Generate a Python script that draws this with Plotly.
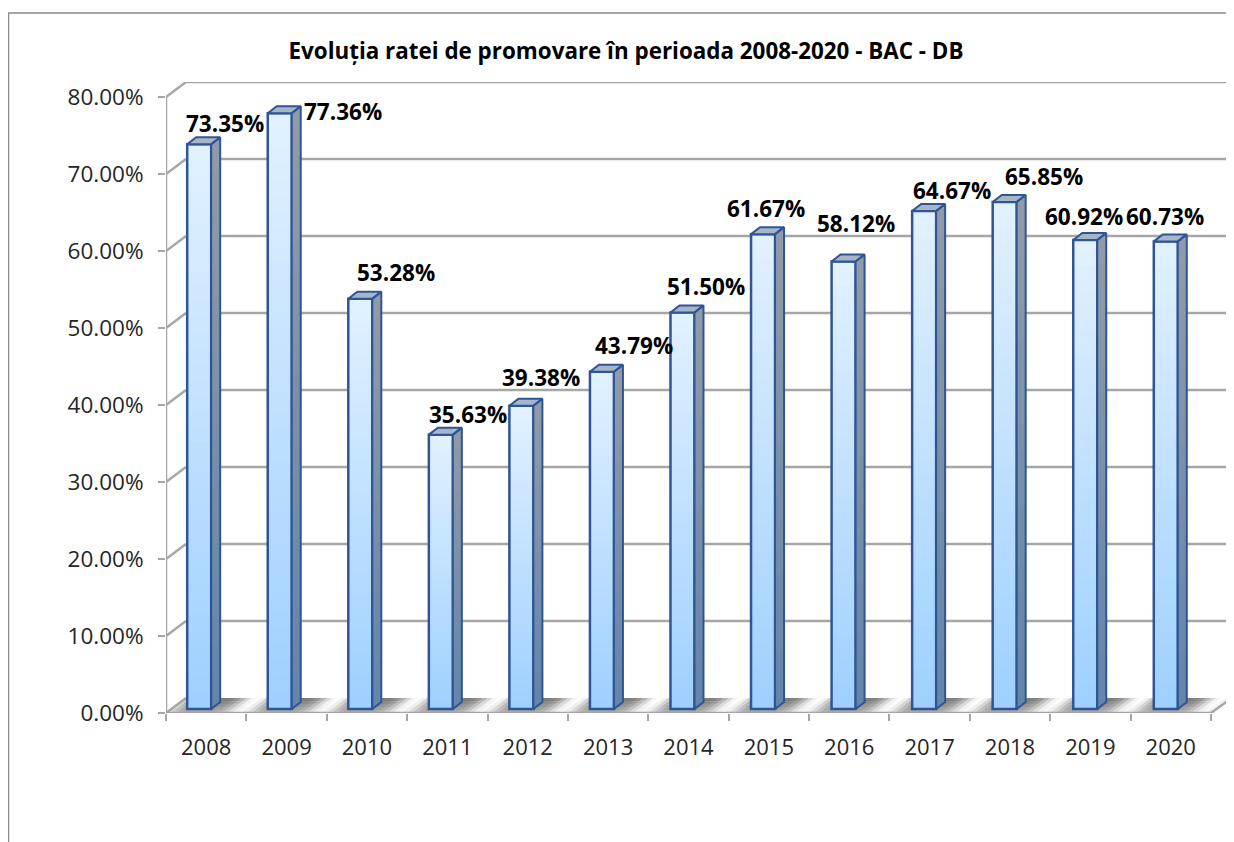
import math
import plotly.graph_objects as go

years = ["2008", "2009", "2010", "2011", "2012", "2013", "2014",
         "2015", "2016", "2017", "2018", "2019", "2020"]
rates = [73.35, 77.36, 53.28, 35.63, 39.38, 43.79, 51.50,
         61.67, 58.12, 64.67, 65.85, 60.92, 60.73]
y_ticks = [0, 10, 20, 30, 40, 50, 60, 70, 80]
title_text = "Evoluția ratei de promovare în perioada 2008-2020 - BAC - DB"

# label nudges in pixels (the original labels were hand-placed)
label_dx = [19, 56, 29, 21, 13, 26, 17.5, -3, 7, 22, 34, -6, -6]
label_dy = [21, 2, 26, 20, 28, 26, 25.5, 26, 37.5, 21, 25, 23, 25]

# --- plot geometry (page body has an 8 px margin, so pixels are shifted by PAGE)
PAGE = 8
W, H = 1234 - PAGE, 842 - PAGE
L_PX, R_PX, T_PX, B_PX = 166 - PAGE, 1232 - PAGE, 82 - PAGE, 713 - PAGE
UX = 80.38      # px per category
UY = 7.7        # px per percentage point
x_lo = -0.5
x_hi = x_lo + (R_PX - L_PX) / UX
y_hi = (B_PX - T_PX) / UY
x_front = x_lo + len(years)
wall_dx = 20 / UX
wall_dy = 15 / UY
bar_w = 24 / UX
bar_off = -7 / UX
bar_step = 80.55 / UX
bar_base = 4 / UY
side_dx = 9 / UX
side_dy = 7 / UY
N_SEG = 36
N_SIDE = 18
GRID = "#A6A6A6"
EDGE = "#2F5597"
FONT = "Open Sans"


def mix(a, b, t):
    return "rgb(%d,%d,%d)" % tuple(round(a[i] + (b[i] - a[i]) * t) for i in range(3))


shapes = []


def seg(x0, y0, x1, y1, w=2.5, c=GRID):
    shapes.append(dict(type="line", xref="x", yref="y", x0=x0, y0=y0, x1=x1, y1=y1,
                       layer="below", line=dict(color=c, width=w)))


# floor: painted front to back, each slice overlapping the next to avoid seams
n_sl = 16
n_row = 5
for row in range(n_row):
    fb0 = row / n_row
    f = (row + 0.5) / n_row
    for i in range(len(years)):
        for k in range(n_sl):
            t0, t1 = k / n_sl, (k + 1) / n_sl
            xa0, xa1 = x_lo + i + t0, x_lo + i + t1 + 0.02
            if xa1 > x_front:
                xa1 = x_front

            def P(xa, ff):
                return f"{xa + wall_dx * ff:.4f},{wall_dy * ff:.4f}"

            tm = (t0 + t1) / 2
            glow = math.sin(math.pi * (tm - 0.4)) ** 2
            glow = glow ** 2.5
            back = 120 + 135 * glow
            front = 172 + 73 * glow
            v = front + (back - front) * f
            col = f"rgb({v:.0f},{v:.0f},{v:.0f})"
            path = "M" + P(xa0, fb0) + "L" + P(xa1, fb0) + "L" + P(xa1, 1) + "L" + P(xa0, 1) + "Z"
            shapes.append(dict(type="path", xref="x", yref="y", path=path, layer="below",
                               line=dict(width=0), fillcolor=col))

# back wall grid, slanted stubs, axis lines
for v in y_ticks:
    if v > 0:
        seg(x_lo + wall_dx, v + wall_dy, x_hi, v + wall_dy)
    seg(x_lo, v, x_lo + wall_dx, v + wall_dy)
seg(x_lo, 0, x_lo, 80)
seg(x_lo, 0, x_front, 0)
seg(x_front, 0, x_hi, wall_dy)

# outer frame of the picture (paper coordinates)
pw = R_PX - L_PX
ph = B_PX - T_PX
shapes.append(dict(type="path", xref="paper", yref="paper", layer="below",
                   path=(f"M{(8 - PAGE - L_PX) / pw + 0.0005:.5f},{(B_PX - H) / ph:.5f}"
                         f"L{(8 - PAGE - L_PX) / pw + 0.0005:.5f},{(B_PX - (13 - PAGE)) / ph:.5f}"
                         f"L{(W - L_PX) / pw:.5f},{(B_PX - (13 - PAGE)) / ph:.5f}"),
                   line=dict(color="#8C8C8C", width=1.5)))

fig = go.Figure()

xs = list(range(len(years)))
bar_xs = [i * bar_step for i in xs]
# front faces: overlaid gradient layers, each running to the top of the bar
c_top, c_bot = (226, 241, 255), (158, 208, 255)
for k in range(N_SEG):
    t = (k + 0.5) / N_SEG
    fig.add_trace(go.Bar(
        x=bar_xs, y=[r * (N_SEG - k) / N_SEG for r in rates],
        base=[bar_base + r * k / N_SEG for r in rates],
        width=bar_w, offset=[bar_off - bar_w / 2] * len(xs),
        marker=dict(color=mix(c_bot, c_top, t), line=dict(width=0)),
        hoverinfo="skip", showlegend=False))
# front outline
fig.add_trace(go.Bar(
    x=bar_xs, y=rates, base=[bar_base] * len(xs),
    width=bar_w, offset=[bar_off - bar_w / 2] * len(xs),
    marker=dict(color="rgba(0,0,0,0)", line=dict(color=EDGE, width=2.5)),
    showlegend=False, name="Rata de promovare"))
fig.update_layout(barmode="overlay")

# side faces
s_top, s_bot = (146, 155, 168), (98, 133, 170)
for k in range(N_SIDE):
    t = (k + 0.5) / N_SIDE
    px, py = [], []
    for bx, r in zip(bar_xs, rates):
        xr = bx + bar_off + bar_w / 2
        a = bar_base + r * k / N_SIDE
        b = bar_base + r
        px += [xr, xr + side_dx, xr + side_dx, xr, xr, None]
        py += [a, a + side_dy, b + side_dy, b, a, None]
    fig.add_trace(go.Scatter(x=px, y=py, mode="lines", fill="toself",
                             fillcolor=mix(s_bot, s_top, t), line=dict(width=0),
                             hoverinfo="skip", showlegend=False))

# top faces + edges
tx, ty, ex, ey = [], [], [], []
for bx, r in zip(bar_xs, rates):
    xl = bx + bar_off - bar_w / 2
    xr = bx + bar_off + bar_w / 2
    top = bar_base + r
    tx += [xl, xr, xr + side_dx, xl + side_dx, xl, None]
    ty += [top, top, top + side_dy, top + side_dy, top, None]
    ex += [xr, xr, xr + side_dx, xr + side_dx, xr, None]
    ey += [bar_base, top, top + side_dy, bar_base + side_dy, bar_base, None]
fig.add_trace(go.Scatter(x=tx, y=ty, mode="lines", fill="toself", fillcolor="#A7B5C8",
                         line=dict(color=EDGE, width=2), hoverinfo="skip", showlegend=False))
fig.add_trace(go.Scatter(x=ex, y=ey, mode="lines", line=dict(color=EDGE, width=2),
                         hoverinfo="skip", showlegend=False))

annotations = [
    dict(x=i, y=bar_base + r, xref="x", yref="y", xshift=label_dx[i], yshift=label_dy[i],
         text=f"{r:.2f}%", showarrow=False, xanchor="center", yanchor="middle",
         font=dict(family=FONT, size=22.5, color="#000000", weight="bold"))
    for i, r in enumerate(rates)
]

fig.update_layout(
    width=W, height=H,
    margin=dict(l=L_PX, r=W - R_PX, t=T_PX, b=H - B_PX, pad=0, autoexpand=False),
    paper_bgcolor="white", plot_bgcolor="white",
    shapes=shapes, annotations=annotations,
    title=dict(text=title_text, x=(626 - PAGE) / W, xanchor="center",
               y=1 - (51 - PAGE) / H, yanchor="middle",
               font=dict(family=FONT, size=22.4, color="#000000", weight="bold")),
    xaxis=dict(range=[x_lo, x_hi], tickmode="array", tickvals=xs, ticktext=years,
               ticks="", showgrid=False, zeroline=False, showline=False,
               ticklabelstandoff=19,
               tickfont=dict(family=FONT, size=22, color="#262626"),
               minor=dict(tickmode="array", tickvals=[x_lo + i for i in range(len(years) + 1)],
                          ticks="outside", ticklen=7, tickcolor=GRID, tickwidth=2, showgrid=False)),
    yaxis=dict(range=[0, y_hi], tickmode="array", tickvals=y_ticks,
               ticktext=[f"{v:.2f}%" for v in y_ticks],
               ticks="outside", ticklen=7, tickcolor=GRID, tickwidth=2,
               ticklabelstandoff=10,
               showgrid=False, zeroline=False, showline=False,
               tickfont=dict(family=FONT, size=22.5, color="#262626")),
)

fig.write_html("out.html")
